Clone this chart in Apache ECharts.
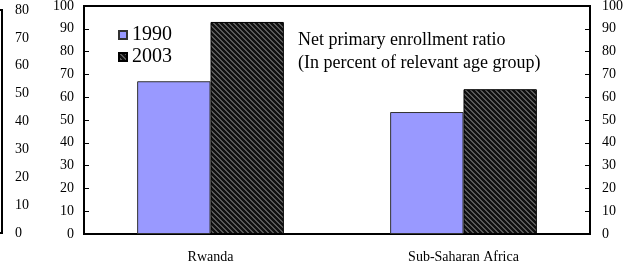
<!DOCTYPE html>
<html>
<head>
<meta charset="utf-8">
<script src="https://cdn.jsdelivr.net/npm/echarts@6/dist/echarts.min.js"></script>
<style>
  html, body { margin: 0; padding: 0; background: #fff; }
  #chart { width: 630px; height: 267px; }
</style>
</head>
<body>
<div id="chart"></div>
<script>
  // data
  var categories = ['Rwanda', 'Sub-Saharan Africa'];
  var enroll1990 = [67, 53.5];
  var enroll2003 = [93, 63.5];
  var leftTicks = [0, 80, 10];   // min, max, step of the cut-off neighbour axis
  var mainTicks = [0, 100, 10];

  var serif = '"Liberation Serif", "Times New Roman", serif';

  // diagonal hatch for the 2003 bars
  function hatch () {
    var c = document.createElement('canvas');
    c.width = 5; c.height = 5;
    var ctx = c.getContext('2d');
    ctx.fillStyle = '#111';
    ctx.fillRect(0, 0, 5, 5);
    ctx.fillStyle = '#5a5a5a';
    for (var x = 0; x < 5; x++) {
      for (var y = 0; y < 5; y++) {
        if ((x - y + 10) % 5 < 2) ctx.fillRect(x, y, 1, 1);
      }
    }
    return c;
  }

  var labelStyle = { color: '#000', fontFamily: serif, fontSize: 14 };
  var axisLine = { show: true, lineStyle: { color: '#000', width: 2 } };

  var chart = echarts.init(document.getElementById('chart'));
  chart.setOption({
    animation: false,
    legend: {
      orient: 'vertical',
      left: 113,
      top: 20,
      icon: 'rect',
      itemWidth: 8,
      itemHeight: 8,
      itemGap: 2,
      textStyle: { color: '#000', fontFamily: serif, fontSize: 20 },
      data: ['1990', '2003']
    },
    grid: [
      { left: 84, right: 40, top: 6, bottom: 33, show: true, borderColor: '#000', borderWidth: 2, outerBoundsMode: 'none' },
      { left: -200, right: 628, top: 10, bottom: 34, show: true, borderColor: '#000', borderWidth: 2, outerBoundsMode: 'none' }
    ],
    xAxis: [{
      type: 'category',
      gridIndex: 0,
      data: categories,
      axisLine: axisLine,
      axisTick: { inside: true, length: 5, lineStyle: { color: '#000' } },
      axisLabel: Object.assign({}, labelStyle, { margin: 16 })
    }, {
      type: 'value',
      gridIndex: 1,
      show: false
    }],
    yAxis: [{
      type: 'value',
      gridIndex: 0,
      min: mainTicks[0], max: mainTicks[1], interval: mainTicks[2],
      position: 'left',
      axisLine: axisLine,
      axisTick: { show: true, inside: true, length: 5, lineStyle: { color: '#000' } },
      splitLine: { show: false },
      axisLabel: Object.assign({ margin: 10 }, labelStyle)
    }, {
      type: 'value',
      gridIndex: 0,
      min: mainTicks[0], max: mainTicks[1], interval: mainTicks[2],
      position: 'right',
      axisLine: axisLine,
      axisTick: { show: true, inside: true, length: 5, lineStyle: { color: '#000' } },
      splitLine: { show: false },
      axisLabel: Object.assign({ margin: 12 }, labelStyle)
    }, {
      type: 'value',
      gridIndex: 1,
      min: leftTicks[0], max: leftTicks[1], interval: leftTicks[2],
      position: 'right',
      axisLine: axisLine,
      axisTick: { show: true, inside: true, length: 5, lineStyle: { color: '#000' } },
      splitLine: { show: false },
      axisLabel: Object.assign({ margin: 13 }, labelStyle)
    }],
    graphic: [{
      type: 'text',
      left: 298,
      top: 29,
      style: {
        text: 'Net primary enrollment ratio\n(In percent of relevant age group)',
        fontFamily: serif,
        fontSize: 18,
        lineHeight: 23,
        fill: '#000'
      }
    }],
    series: [{
      name: '1990',
      type: 'bar',
      xAxisIndex: 0,
      yAxisIndex: 0,
      data: enroll1990,
      barGap: '0%',
      barCategoryGap: '42%',
      itemStyle: { color: '#9999ff', borderColor: '#333', borderWidth: 1 }
    }, {
      name: '2003',
      type: 'bar',
      xAxisIndex: 0,
      yAxisIndex: 0,
      data: enroll2003,
      itemStyle: { color: { image: hatch(), repeat: 'repeat' }, borderColor: '#000', borderWidth: 1 }
    }]
  });
</script>
</body>
</html>
